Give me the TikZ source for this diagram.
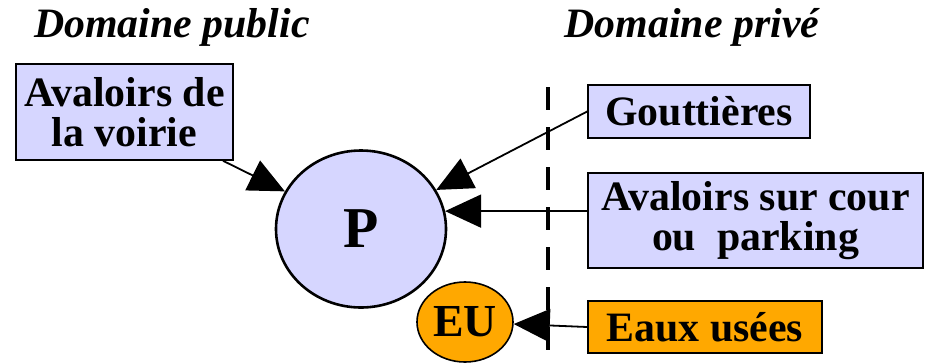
\documentclass[tikz,border=0pt]{standalone}
\usepackage{fontspec}
\setmainfont{Liberation Serif}
\usetikzlibrary{arrows.meta,shapes.geometric}

\definecolor{lavande}{RGB}{214,214,255}
\definecolor{orangeEU}{RGB}{255,168,0}

\tikzset{
  boite/.style={draw, line width=1.6bp, fill=lavande, inner sep=0pt, align=center,
    font=\fontsize{42}{40.5}\selectfont\bfseries},
  regard/.style={ellipse, draw, inner sep=0pt, font=\bfseries},
  titre/.style={font=\fontsize{42}{42}\selectfont\bfseries\itshape},
  fleche/.style={line width=1.8bp, -{Triangle[length=36bp,width=33bp]}},
}

\begin{document}
\begin{tikzpicture}[x=1bp,y=-1bp]
\useasboundingbox (0,0) rectangle (926,363);

\node [titre] (public) at (172,27) {Domaine public};
\node [titre] (prive) at (692,27) {Domaine privé};

\draw [line width=4.5bp, dash pattern=on 23bp off 17bp] (548,87) -- (548,356);

\node [boite, minimum width=217bp, minimum height=96bp] (voirie) at (124.5,112) {Avaloirs de\\la voirie};
\node [boite, minimum width=222bp, minimum height=53bp] (goutt) at (699,111.5) {Gouttières};
\node [boite, minimum width=335bp, minimum height=95bp] (cour) at (755.5,220.5) {Avaloirs sur cour\\ou\ \ parking};
\node [boite, fill=orangeEU, minimum width=234bp, minimum height=52bp] (eaux) at (705,327) {Eaux usées};

\node [regard, line width=2.6bp, fill=lavande, minimum width=170bp, minimum height=157bp,
  font=\fontsize{58}{58}\selectfont\bfseries] (P) at (361,229) {P};
\node [regard, line width=1.6bp, fill=orangeEU, minimum width=96bp, minimum height=80bp,
  font=\fontsize{46}{46}\selectfont\bfseries] (EU) at (465,322) {EU};

\draw [fleche] (voirie) -- (P);
\draw [fleche] (goutt.west) -- (P);
\draw [fleche] (cour.west |- P.12) -- (P.12);
\draw [fleche] (eaux.west) -- (EU);

\end{tikzpicture}
\end{document}
